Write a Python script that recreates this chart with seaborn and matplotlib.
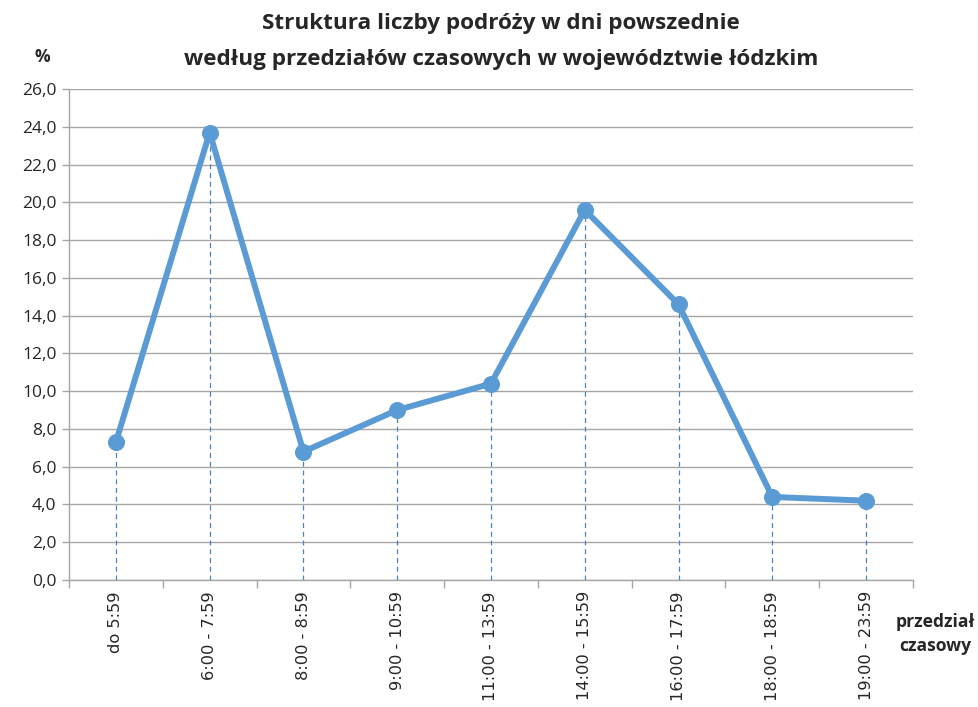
import numpy as np
import pandas as pd
import matplotlib.pyplot as plt
import seaborn as sns
from matplotlib.ticker import FuncFormatter, FixedLocator

# data
przedzialy = ['do 5:59', '6:00 - 7:59', '8:00 - 8:59', '9:00 - 10:59', '11:00 - 13:59',
              '14:00 - 15:59', '16:00 - 17:59', '18:00 - 18:59', '19:00 - 23:59']
udzial = [7.3, 23.7, 6.8, 9.0, 10.4, 19.6, 14.6, 4.4, 4.2]

df = pd.DataFrame({'x': np.arange(len(przedzialy)), 'udzial': udzial})

sns.set_style('white')
plt.rcParams['font.family'] = ['DejaVu Sans']

fig = plt.figure(figsize=(9.79, 7.07), dpi=100)
ax = fig.add_axes([0.0705, 0.1796, 0.862, 0.6944])

blue = '#5B9BD5'
grid_c = '#A6A6A6'
label_font = ['Open Sans', 'DejaVu Sans']

# dashed drop lines from each point to the axis
ax.vlines(df['x'], 0, df['udzial'], colors='#4F81BD', linestyles=(0, (4, 3)), linewidth=0.9, zorder=2)

sns.lineplot(data=df, x='x', y='udzial', ax=ax, color=blue, linewidth=4.3,
             marker='o', markersize=11.5, markeredgecolor=blue, markerfacecolor=blue, zorder=3)

ax.set_xlim(-0.5, len(przedzialy) - 0.5)
ax.set_ylim(0, 26)
ax.set_yticks(np.arange(0, 27, 2))
ax.yaxis.set_major_formatter(FuncFormatter(lambda v, p: f'{v:.1f}'.replace('.', ',')))
ax.grid(axis='y', color=grid_c, linewidth=1.0)
ax.set_axisbelow(True)

ax.set_xticks(df['x'])
ax.set_xticklabels(przedzialy, rotation=90)
ax.xaxis.set_minor_locator(FixedLocator(np.arange(-0.5, len(przedzialy), 1)))
ax.tick_params(axis='x', which='major', length=0, pad=8)
ax.tick_params(axis='x', which='minor', length=6, color=grid_c, width=1, direction='out')
ax.tick_params(axis='y', which='major', length=5, color=grid_c, width=1, direction='out', pad=4)
ax.tick_params(axis='both', which='both', bottom=True, left=True)
ax.set_xlabel('')
ax.set_ylabel('')

for lab in ax.get_yticklabels():
    lab.set_fontfamily(label_font)
    lab.set_fontsize(12.5)
for lab in ax.get_xticklabels():
    lab.set_fontfamily(['DejaVu Sans'])
    lab.set_fontsize(11.7)

for s in ['top', 'right']:
    ax.spines[s].set_visible(False)
for s in ['left', 'bottom']:
    ax.spines[s].set_color(grid_c)
    ax.spines[s].set_linewidth(1.0)

fig.text(0.512, 0.981, 'Struktura liczby podróży w dni powszednie\nwedług przedziałów czasowych w województwie łódzkim',
         ha='center', va='top', fontsize=16.2, fontweight='bold', family=label_font, linespacing=1.9)
fig.text(0.043, 0.92, '%', ha='center', va='center', fontsize=12.5, fontweight='bold', family=label_font)
fig.text(0.9145, 0.103, 'przedział\nczasowy', ha='left', va='center', fontsize=12.6, fontweight='bold',
         family=label_font, multialignment='center', linespacing=1.45)

fig.savefig('out.png', dpi=100)
